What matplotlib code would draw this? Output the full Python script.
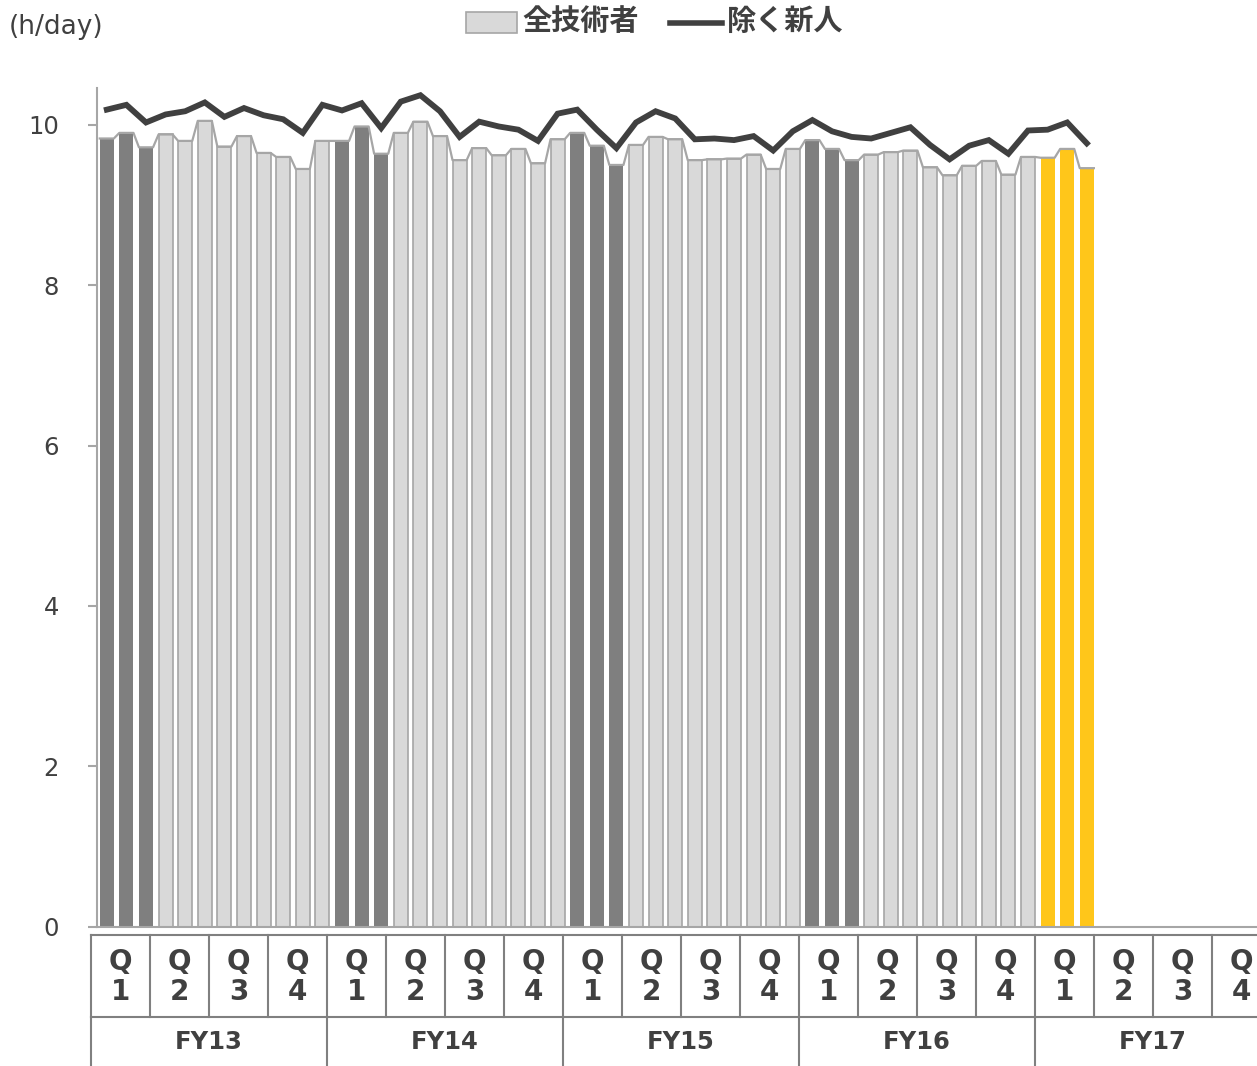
import matplotlib
matplotlib.use("Agg")
import matplotlib.pyplot as plt
from matplotlib.lines import Line2D
from matplotlib.patches import Rectangle

# monthly values, FY13 Apr .. FY17 Jun (51 months)
all_engineers = [
    9.83, 9.90, 9.72, 9.88, 9.80, 10.05, 9.73, 9.86, 9.65, 9.60, 9.45, 9.80,
    9.80, 9.98, 9.64, 9.90, 10.04, 9.86, 9.56, 9.71, 9.62, 9.70, 9.52, 9.82,
    9.90, 9.74, 9.50, 9.75, 9.85, 9.82, 9.56, 9.57, 9.58, 9.63, 9.45, 9.70,
    9.81, 9.70, 9.56, 9.63, 9.66, 9.68, 9.47, 9.37, 9.49, 9.55, 9.38, 9.60,
    9.59, 9.70, 9.46,
]
excl_new = [
    10.19, 10.25, 10.03, 10.13, 10.17, 10.28, 10.10, 10.21, 10.12, 10.07, 9.90, 10.25,
    10.18, 10.27, 9.96, 10.29, 10.37, 10.17, 9.85, 10.04, 9.98, 9.94, 9.80, 10.14,
    10.19, 9.94, 9.71, 10.03, 10.17, 10.08, 9.82, 9.83, 9.81, 9.86, 9.68, 9.92,
    10.06, 9.92, 9.85, 9.83, 9.90, 9.97, 9.75, 9.57, 9.74, 9.81, 9.64, 9.93,
    9.94, 10.03, 9.77,
]
years = ["FY13", "FY14", "FY15", "FY16", "FY17"]
quarters = ["Q\n1", "Q\n2", "Q\n3", "Q\n4"]
y_ticks = [0, 2, 4, 6, 8, 10]

DARK = "#7f7f7f"
LIGHT = "#d9d9d9"
YELLOW = "#ffc61a"
EDGE = "#a6a6a6"
TEXT = "#404040"

W, H = 1257, 1066
fig = plt.figure(figsize=(W / 100, H / 100), dpi=100)
plt.rcParams["font.family"] = ["DejaVu Sans"]

ax = fig.add_axes([97 / W, (H - 926.5) / H, (1273 - 97) / W, (926.5 - 88) / H])
ax.set_xlim(-0.5, len(years) * 12 - 0.5)
ax.set_ylim(0, 10.46)

bw = 0.72
for i, v in enumerate(all_engineers):
    if i >= 48:
        fc, ec = YELLOW, "none"
    elif (i // 3) % 4 == 0:
        fc, ec = DARK, "none"
    else:
        fc, ec = LIGHT, EDGE
    ax.bar(i, v, width=bw, color=fc, edgecolor=ec, linewidth=1.2, zorder=2)

# outline connecting bar tops
xs, ys = [], []
for i, v in enumerate(all_engineers):
    xs += [i - bw / 2, i + bw / 2]
    ys += [v, v]
ax.plot(xs, ys, color=EDGE, lw=1.6, zorder=3)

ax.plot(range(len(excl_new)), excl_new, color=TEXT, lw=4.2, zorder=4,
        solid_joinstyle="miter")

for s in ["top", "right"]:
    ax.spines[s].set_visible(False)
for s in ["left", "bottom"]:
    ax.spines[s].set_color(EDGE)
    ax.spines[s].set_linewidth(1.5)
ax.set_xticks([])
ax.set_yticks(y_ticks)
ax.tick_params(axis="y", length=6.5, width=1.5, color=EDGE, pad=21,
               labelsize=17.5, labelcolor=TEXT)

# category table below the axis
tab = fig.add_axes([91 / W, 0, (1271 - 91) / W, (H - 934) / H])
tab.set_xlim(0, 20)
tab.set_ylim(0, H - 934)
tab.axis("off")
top, mid = H - 934 - 1, H - 1017
lc = dict(color="#808080", lw=1.5, clip_on=False)
tab.plot([0, 20], [top, top], **lc)
tab.plot([0, 20], [mid, mid], **lc)
for k in range(21):
    tab.plot([k, k], [mid, top], **lc)
for k in range(0, 21, 4):
    tab.plot([k, k], [0, mid], **lc)
for y, fy in enumerate(years):
    for q, ql in enumerate(quarters):
        tab.text(y * 4 + q + 0.5, (mid + top) / 2 - 1, ql, ha="center",
                 va="center", fontsize=20, fontweight="bold", color=TEXT,
                 linespacing=1.1, clip_on=False)
    tab.text(y * 4 + 2, 24, fy, ha="center", va="center", fontsize=17.5,
             fontweight="bold", color=TEXT, clip_on=False)

# unit label and legend
fig.text(9 / W, 1 - 27 / H, "(h/day)", fontsize=19, color=TEXT,
         ha="left", va="center")
fig.patches.append(Rectangle((466 / W, 1 - 33 / H), 51 / W, 21 / H,
                             transform=fig.transFigure, facecolor=LIGHT,
                             edgecolor=EDGE, lw=1.2))
cjk = ["Noto Sans CJK JP", "DejaVu Sans"]
fig.text(522 / W, 1 - 21 / H, "全技術者", family=cjk, fontsize=21,
         fontweight="bold", color=TEXT, ha="left", va="center")
fig.lines.append(Line2D([670 / W, 722 / W], [1 - 23 / H, 1 - 23 / H],
                        transform=fig.transFigure, color=TEXT, lw=4))
fig.text(727 / W, 1 - 21 / H, "除く新人", family=cjk, fontsize=21,
         fontweight="bold", color=TEXT, ha="left", va="center")

fig.savefig("out.png", dpi=100)
